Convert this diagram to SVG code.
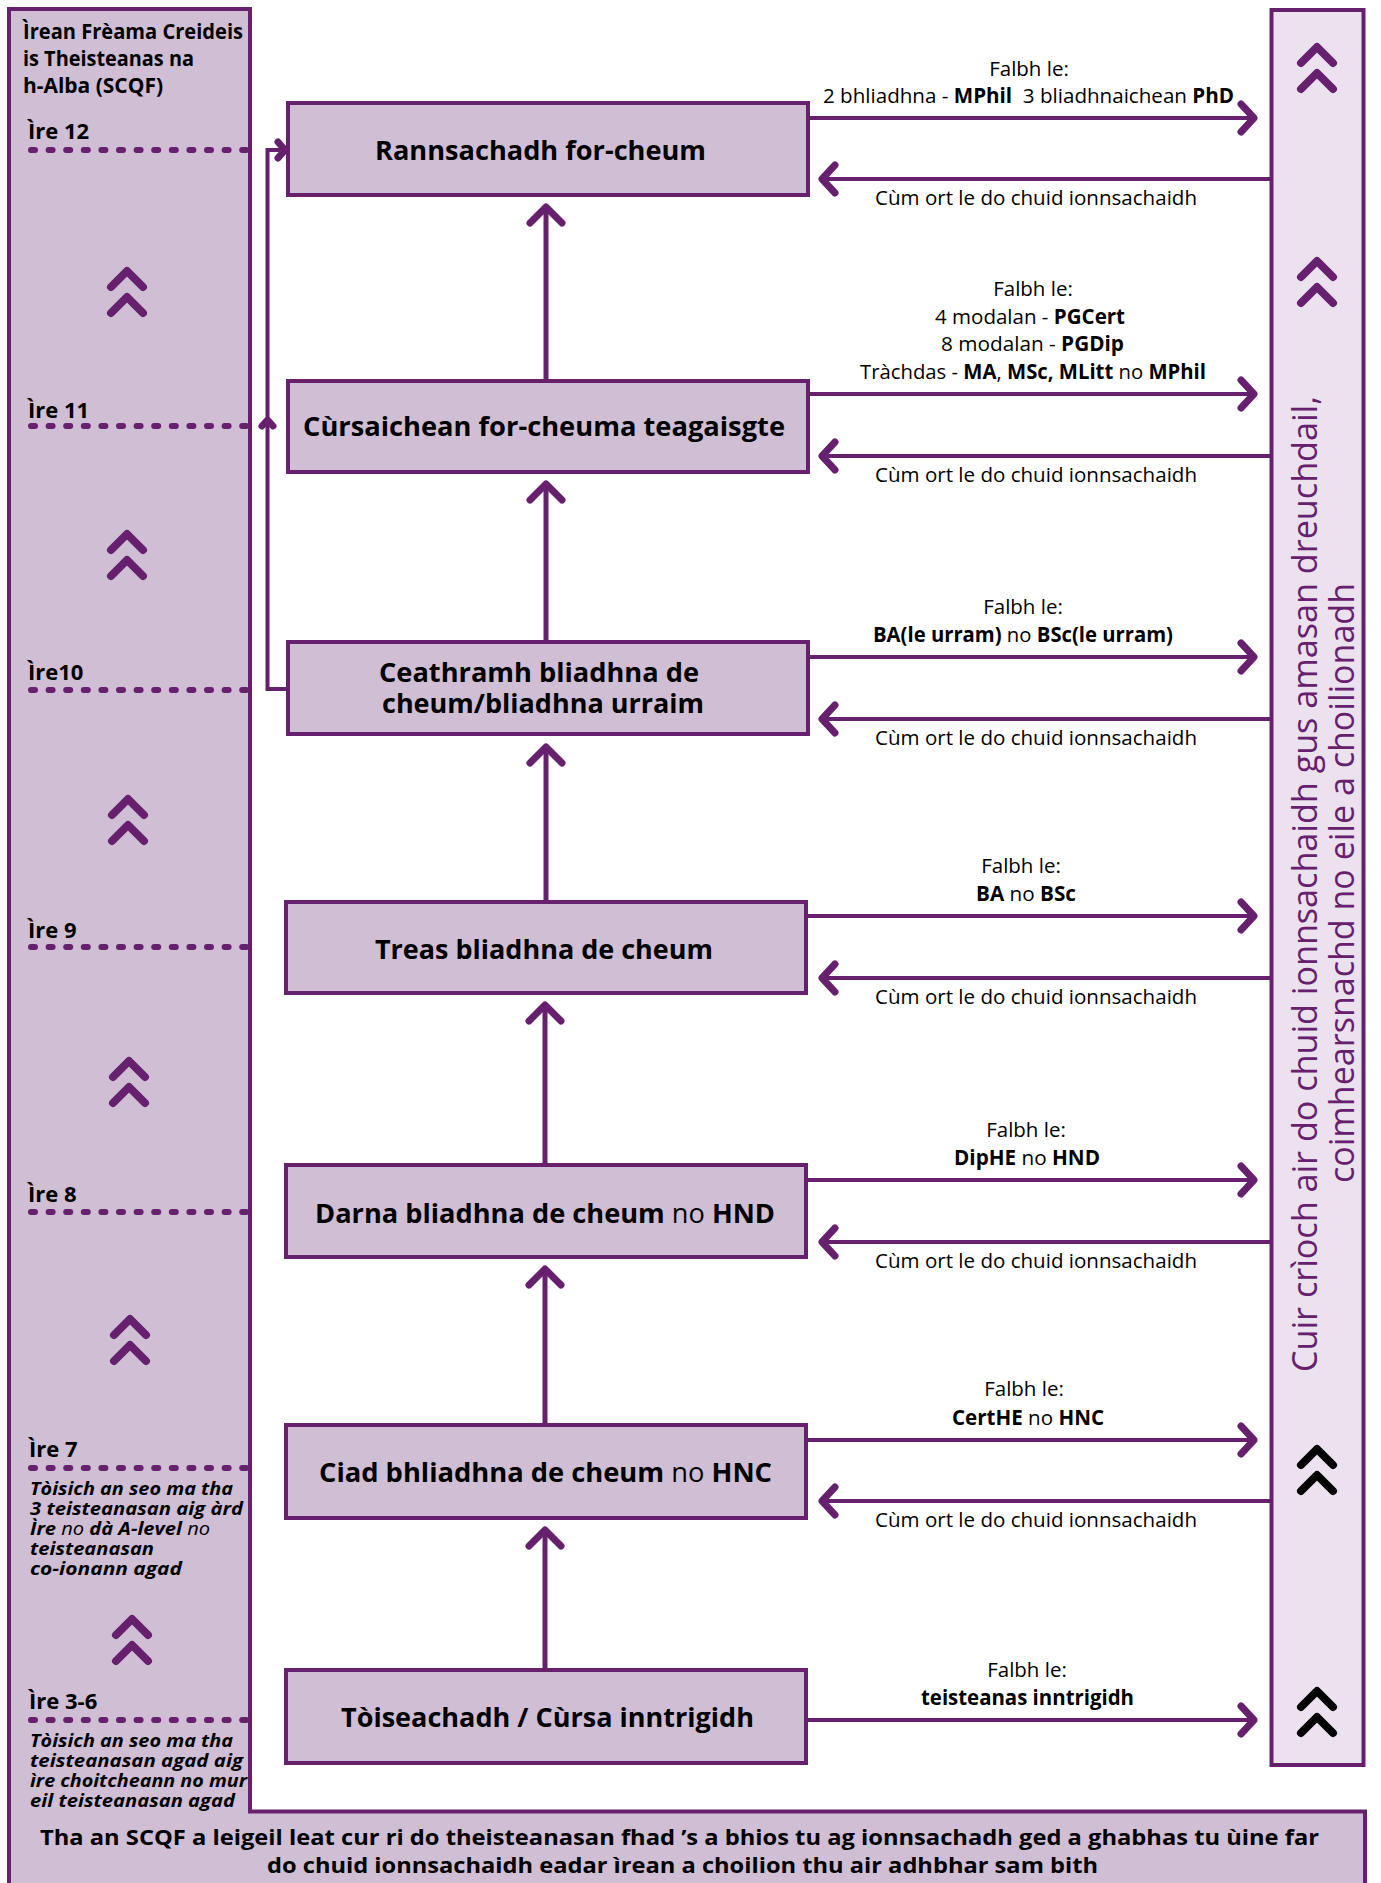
<svg xmlns="http://www.w3.org/2000/svg" width="1381" height="1883" viewBox="0 0 1381 1883">
<style>
 text { font-family: "Open Sans", "Noto Sans", "DejaVu Sans", sans-serif; fill:#000; }
 .node rect { fill:#cfbed4; stroke:#66206e; stroke-width:4; }
 .nl { font-size:27px; font-weight:700; }
 .lab { font-size:20.5px; }
 .mid { text-anchor:middle; }
 .b { font-weight:700; }
 .r { font-weight:400; }
 .line { stroke:#66206e; stroke-width:4; fill:none; }
 .shaft { stroke:#66206e; stroke-width:5; fill:none; }
 .head { stroke:#66206e; stroke-width:7; fill:none; stroke-linecap:round; stroke-linejoin:round; }
 .chev { stroke-width:8; fill:none; stroke-linecap:round; stroke-linejoin:round; }
 .pc { stroke:#66206e; }
 .kc { stroke:#000; }
 .dots { stroke:#66206e; stroke-width:6; stroke-dasharray:4 13.6; stroke-linecap:round; fill:none; }
 .ire { font-size:22px; font-weight:700; }
 .it { font-size:18px; font-weight:700; font-style:italic; }
 .ttl { font-size:21px; font-weight:700; }
 .side { font-size:34px; fill:#66206e; }
 .ban { font-size:22px; font-weight:700; }
</style>
<defs>
 <g id="chv"><path d="M-16 20 L0 4 L16 20 M-16 46 L0 30 L16 46"/></g>
</defs>
<rect x="0" y="0" width="1381" height="1883" fill="#ffffff"/>

<!-- left panel + bottom banner -->
<g id="scqf-panel">
 <path d="M9 9 H250 V1811.5 H1365 V1892 H9 Z" fill="#cfbed4" stroke="#66206e" stroke-width="4"/>
 <text class="ttl" x="23" y="39" textLength="220" lengthAdjust="spacingAndGlyphs">Ìrean Frèama Creideis</text>
 <text class="ttl" x="23" y="66" textLength="171" lengthAdjust="spacingAndGlyphs">is Theisteanas na</text>
 <text class="ttl" x="23" y="93" textLength="140" lengthAdjust="spacingAndGlyphs">h-Alba (SCQF)</text>

 <text class="ire" x="28" y="139">Ìre 12</text>
 <text class="ire" x="28" y="418">Ìre 11</text>
 <text class="ire" x="28" y="680">Ìre10</text>
 <text class="ire" x="28" y="938">Ìre 9</text>
 <text class="ire" x="28" y="1202">Ìre 8</text>
 <text class="ire" x="29" y="1457">Ìre 7</text>
 <text class="ire" x="29" y="1709">Ìre 3-6</text>

 <path class="dots" d="M31 150 H248 M31 426 H248 M31 690 H248 M31 947 H248 M31 1212 H248 M31 1468 H248 M31 1720 H248"/>

 <text class="it" x="30" y="1495" textLength="203" lengthAdjust="spacingAndGlyphs">Tòisich an seo ma tha</text>
 <text class="it" x="30" y="1515" textLength="213" lengthAdjust="spacingAndGlyphs">3 teisteanasan aig àrd</text>
 <text class="it" x="30" y="1535" textLength="180" lengthAdjust="spacingAndGlyphs">Ìre<tspan class="r"> no </tspan>dà A-level<tspan class="r"> no</tspan></text>
 <text class="it" x="30" y="1555" textLength="124" lengthAdjust="spacingAndGlyphs">teisteanasan</text>
 <text class="it" x="30" y="1575" textLength="152" lengthAdjust="spacingAndGlyphs">co-ionann agad</text>

 <text class="it" x="30" y="1747" textLength="203" lengthAdjust="spacingAndGlyphs">Tòisich an seo ma tha</text>
 <text class="it" x="30" y="1767" textLength="213" lengthAdjust="spacingAndGlyphs">teisteanasan agad aig</text>
 <text class="it" x="30" y="1787" textLength="217" lengthAdjust="spacingAndGlyphs">ìre choitcheann no mur</text>
 <text class="it" x="30" y="1807" textLength="205" lengthAdjust="spacingAndGlyphs">eil teisteanasan agad</text>

 <use href="#chv" class="chev pc" x="127" y="267"/>
 <use href="#chv" class="chev pc" x="127" y="530"/>
 <use href="#chv" class="chev pc" x="128" y="795"/>
 <use href="#chv" class="chev pc" x="129" y="1057"/>
 <use href="#chv" class="chev pc" x="130" y="1315"/>
 <use href="#chv" class="chev pc" x="132" y="1615"/>

 <text class="ban" x="40" y="1845" textLength="1279" lengthAdjust="spacingAndGlyphs">Tha an SCQF a leigeil leat cur ri do theisteanasan fhad ’s a bhios tu ag ionnsachadh ged a ghabhas tu ùine far</text>
 <text class="ban" x="267" y="1873" textLength="831" lengthAdjust="spacingAndGlyphs">do chuid ionnsachaidh eadar ìrean a choilion thu air adhbhar sam bith</text>
</g>

<!-- right panel -->
<g id="career-panel">
 <rect x="1271.5" y="10" width="92" height="1755" fill="#ece1ef" stroke="#66206e" stroke-width="4"/>
 <use href="#chv" class="chev pc" x="1317" y="43"/>
 <use href="#chv" class="chev pc" x="1317" y="257"/>
 <use href="#chv" class="chev kc" x="1317" y="1445"/>
 <use href="#chv" class="chev kc" x="1317" y="1687"/>
 <g transform="translate(1317 884) rotate(-90)">
  <text class="side" x="-488" y="0" textLength="976" lengthAdjust="spacingAndGlyphs">Cuir crìoch air do chuid ionnsachaidh gus amasan dreuchdail,</text>
 </g>
 <g transform="translate(1354 883) rotate(-90)">
  <text class="side" x="-300" y="0" textLength="600" lengthAdjust="spacingAndGlyphs">coimhearsnachd no eile a choilionadh</text>
 </g>
</g>

<!-- nodes -->
<g id="node-rannsachadh" class="node">
 <rect x="288" y="103" width="520" height="92"/>
 <text class="nl" x="375" y="160" textLength="331" lengthAdjust="spacingAndGlyphs">Rannsachadh for-cheum</text>
</g>
<g id="node-cursaichean" class="node">
 <rect x="288" y="381" width="520" height="91"/>
 <text class="nl" x="303" y="436" textLength="482" lengthAdjust="spacingAndGlyphs">Cùrsaichean for-cheuma teagaisgte</text>
</g>
<g id="node-ceathramh" class="node">
 <rect x="288" y="642" width="520" height="92"/>
 <text class="nl" x="379" y="682" textLength="320" lengthAdjust="spacingAndGlyphs">Ceathramh bliadhna de</text>
 <text class="nl" x="382" y="713" textLength="322" lengthAdjust="spacingAndGlyphs">cheum/bliadhna urraim</text>
</g>
<g id="node-treas" class="node">
 <rect x="286" y="902" width="520" height="91"/>
 <text class="nl" x="375" y="959" textLength="338" lengthAdjust="spacingAndGlyphs">Treas bliadhna de cheum</text>
</g>
<g id="node-darna" class="node">
 <rect x="286" y="1165" width="520" height="92"/>
 <text class="nl" x="315" y="1223" textLength="460" lengthAdjust="spacingAndGlyphs">Darna bliadhna de cheum <tspan class="r">no</tspan> HND</text>
</g>
<g id="node-ciad" class="node">
 <rect x="286" y="1425" width="520" height="93"/>
 <text class="nl" x="319" y="1482" textLength="453" lengthAdjust="spacingAndGlyphs">Ciad bhliadhna de cheum <tspan class="r">no</tspan> HNC</text>
</g>
<g id="node-toiseachadh" class="node">
 <rect x="286" y="1670" width="520" height="93"/>
 <text class="nl" x="341" y="1727" textLength="413" lengthAdjust="spacingAndGlyphs">Tòiseachadh / Cùrsa inntrigidh</text>
</g>

<!-- connectors -->
<g id="connectors">
 <path class="shaft" d="M546 381 V207 M546 642 V484 M546 902 V747 M545 1165 V1005 M545 1425 V1269 M545 1670 V1530"/>
 <path class="head" d="M530 223 L546 207 L562 223 M530 500 L546 484 L562 500 M530 763 L546 747 L562 763 M529 1021 L545 1005 L561 1021 M529 1285 L545 1269 L561 1285 M529 1546 L545 1530 L561 1546"/>

 <path class="line" d="M286 689 H267.5 V150 H284"/>
 <path class="head" stroke-width="5" d="M278 142 L285 150 L278 158"/>
 <path class="head" stroke-width="3" d="M262 426 L267.5 420 L273 426"/>

 <path class="line" d="M808 118 H1254 M808 394 H1254 M808 657 H1254 M806 916 H1254 M806 1180 H1254 M806 1440 H1254 M806 1720 H1254"/>
 <path class="head" d="M1241 104 L1254 118 L1241 132 M1241 380 L1254 394 L1241 408 M1241 643 L1254 657 L1241 671 M1241 902 L1254 916 L1241 930 M1241 1166 L1254 1180 L1241 1194 M1241 1426 L1254 1440 L1241 1454 M1241 1706 L1254 1720 L1241 1734"/>

 <path class="line" d="M1271 179 H822 M1271 456 H822 M1271 719 H822 M1271 978 H822 M1271 1242 H822 M1271 1501 H822"/>
 <path class="head" d="M835 165 L822 179 L835 193 M835 442 L822 456 L835 470 M835 705 L822 719 L835 733 M835 964 L822 978 L835 992 M835 1228 L822 1242 L835 1256 M835 1487 L822 1501 L835 1515"/>

 <text class="lab mid" x="1029" y="76">Falbh le:</text>
 <text class="lab" x="823" y="103" textLength="411" lengthAdjust="spacingAndGlyphs" xml:space="preserve">2 bhliadhna - <tspan class="b">MPhil</tspan>  3 bliadhnaichean <tspan class="b">PhD</tspan></text>
 <text class="lab" x="875" y="205" textLength="322" lengthAdjust="spacingAndGlyphs">Cùm ort le do chuid ionnsachaidh</text>

 <text class="lab mid" x="1033" y="296">Falbh le:</text>
 <text class="lab" x="935" y="324" textLength="190" lengthAdjust="spacingAndGlyphs">4 modalan - <tspan class="b">PGCert</tspan></text>
 <text class="lab" x="941" y="351" textLength="183" lengthAdjust="spacingAndGlyphs">8 modalan - <tspan class="b">PGDip</tspan></text>
 <text class="lab" x="860" y="379" textLength="346" lengthAdjust="spacingAndGlyphs">Tràchdas - <tspan class="b">MA</tspan>, <tspan class="b">MSc, MLitt</tspan> no <tspan class="b">MPhil</tspan></text>
 <text class="lab" x="875" y="482" textLength="322" lengthAdjust="spacingAndGlyphs">Cùm ort le do chuid ionnsachaidh</text>

 <text class="lab mid" x="1023" y="614">Falbh le:</text>
 <text class="lab" x="873" y="642" textLength="300" lengthAdjust="spacingAndGlyphs"><tspan class="b">BA(le urram)</tspan> no <tspan class="b">BSc(le urram)</tspan></text>
 <text class="lab" x="875" y="745" textLength="322" lengthAdjust="spacingAndGlyphs">Cùm ort le do chuid ionnsachaidh</text>

 <text class="lab mid" x="1021" y="873">Falbh le:</text>
 <text class="lab" x="976" y="901" textLength="100" lengthAdjust="spacingAndGlyphs"><tspan class="b">BA</tspan> no <tspan class="b">BSc</tspan></text>
 <text class="lab" x="875" y="1004" textLength="322" lengthAdjust="spacingAndGlyphs">Cùm ort le do chuid ionnsachaidh</text>

 <text class="lab mid" x="1026" y="1137">Falbh le:</text>
 <text class="lab" x="954" y="1165" textLength="146" lengthAdjust="spacingAndGlyphs"><tspan class="b">DipHE</tspan> no <tspan class="b">HND</tspan></text>
 <text class="lab" x="875" y="1268" textLength="322" lengthAdjust="spacingAndGlyphs">Cùm ort le do chuid ionnsachaidh</text>

 <text class="lab mid" x="1024" y="1396">Falbh le:</text>
 <text class="lab" x="952" y="1425" textLength="152" lengthAdjust="spacingAndGlyphs"><tspan class="b">CertHE</tspan> no <tspan class="b">HNC</tspan></text>
 <text class="lab" x="875" y="1527" textLength="322" lengthAdjust="spacingAndGlyphs">Cùm ort le do chuid ionnsachaidh</text>

 <text class="lab mid" x="1027" y="1677">Falbh le:</text>
 <text class="lab b" x="921" y="1705" textLength="213" lengthAdjust="spacingAndGlyphs">teisteanas inntrigidh</text>
</g>
</svg>
